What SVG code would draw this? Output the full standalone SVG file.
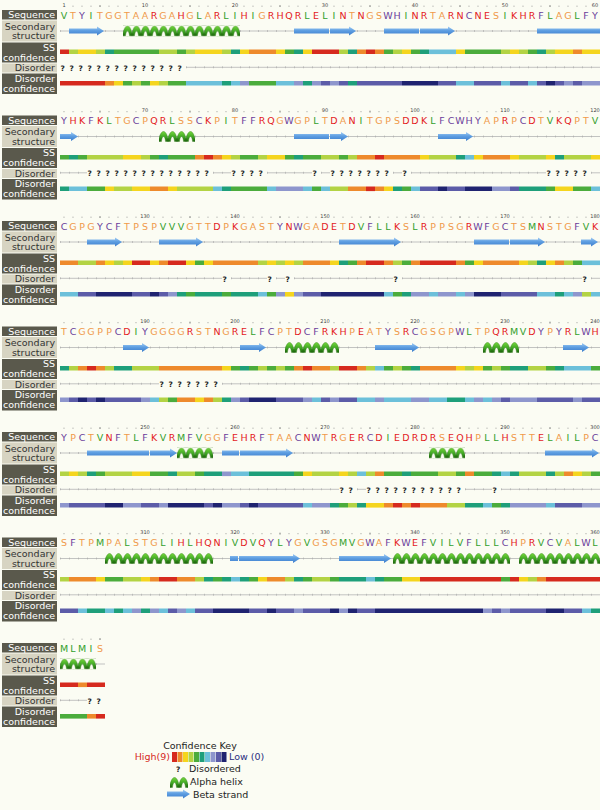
<svg xmlns="http://www.w3.org/2000/svg" width="600" height="810" viewBox="0 0 600 810">
<style>
text{font-family:"DejaVu Sans","Liberation Sans",sans-serif}
.dk{fill:#5a594c}.lt{fill:#d7d4c2}
.lw,.lb{font-size:9.5px;text-anchor:end}
.lw{fill:#fff}.lb{fill:#333}
.tn{font-size:5px;fill:#444;text-anchor:middle}
.sq{font-size:9.5px;text-anchor:middle}
.r{fill:#e31a1c}.o{fill:#f09a4a}.g{fill:#33a02c}.p{fill:#6a3d9a}
.cf path{stroke-width:4.6;fill:none}
.s9{stroke:#d62a1e}.s8{stroke:#ee8a2c}.s7{stroke:#f5d51e}.s6{stroke:#b3d344}.s5{stroke:#4bac3c}.s4{stroke:#1e9f7a}.s3{stroke:#6cc0da}.s2{stroke:#8e96cd}.s1{stroke:#5c5ca8}.s0{stroke:#1f2370}
.ln{stroke:#b4b4b4;stroke-width:0.8;fill:none}
.tk{stroke:#a8a8a8;stroke-width:2;stroke-dasharray:0.6 8.4;fill:none}
.dt{stroke:#777;stroke-width:0.9;stroke-linecap:round;fill:none}
.cm{stroke:#555;stroke-width:0.8;fill:none}
.st{fill:url(#bs)}
.hx{fill:url(#hx)}
.q{font-size:7.5px;font-weight:bold;fill:#222}
</style>
<defs>
<linearGradient id="bs" gradientUnits="userSpaceOnUse" x1="0" y1="26.5" x2="0" y2="35.5"><stop offset="0" stop-color="#a3cdf3"/><stop offset="0.45" stop-color="#5f9fe2"/><stop offset="1" stop-color="#3c7dcc"/></linearGradient>
<linearGradient id="hg" x1="0" y1="0" x2="0" y2="1"><stop offset="0" stop-color="#74d63c"/><stop offset="0.55" stop-color="#3ea622"/><stop offset="1" stop-color="#1d650d"/></linearGradient>
<pattern id="hx" patternUnits="userSpaceOnUse" x="60" y="25.5" width="9" height="11">
<path d="M-0.5 10.6C0.5 3.5 2.5 0.5 4.5 0.5S8.5 3.5 9.5 10.6H6.6C6.2 7.5 5.5 5.6 4.5 5.6S2.8 7.5 2.4 10.6Z" fill="url(#hg)" stroke="#2a7a12" stroke-width="0.4"/>
<path d="M8.5 10.6C8.9 8 9.3 6 9.6 5.5M0.5 10.6C0.1 8 -0.3 6 -0.6 5.5" fill="none" stroke="#1d650d" stroke-width="0.5"/>
</pattern>
<path id="dots" class="dt" d="M73 6.2h.01M82 6.2h.01M91 6.2h.01M109 6.2h.01M118 6.2h.01M127 6.2h.01M136 6.2h.01M154 6.2h.01M163 6.2h.01M172 6.2h.01M181 6.2h.01M199 6.2h.01M208 6.2h.01M217 6.2h.01M226 6.2h.01M244 6.2h.01M253 6.2h.01M262 6.2h.01M271 6.2h.01M289 6.2h.01M298 6.2h.01M307 6.2h.01M316 6.2h.01M334 6.2h.01M343 6.2h.01M352 6.2h.01M361 6.2h.01M379 6.2h.01M388 6.2h.01M397 6.2h.01M406 6.2h.01M424 6.2h.01M433 6.2h.01M442 6.2h.01M451 6.2h.01M469 6.2h.01M478 6.2h.01M487 6.2h.01M496 6.2h.01M514 6.2h.01M523 6.2h.01M532 6.2h.01M541 6.2h.01M559 6.2h.01M568 6.2h.01M577 6.2h.01M586 6.2h.01"/>
<path id="cms" class="cm" d="M100 5.2v1.8M190 5.2v1.8M280 5.2v1.8M370 5.2v1.8M460 5.2v1.8M550 5.2v1.8"/>
</defs>
<rect width="600" height="810" fill="#fbfcf3"/>

<!-- Block 1 -->
<g id="block1">
<rect class="dk" x="2" y="10" width="55" height="9.5"/><text class="lw" x="55" y="18">Sequence</text>
<rect class="lt" x="2" y="20.5" width="55" height="21"/><text class="lb" x="55" y="29.5">Secondary</text><text class="lb" x="55" y="39">structure</text>
<rect class="dk" x="2" y="42.5" width="55" height="20"/><text class="lw" x="55" y="50.5">SS</text><text class="lw" x="55" y="60.5">confidence</text>
<rect class="lt" x="2" y="63.5" width="55" height="9"/><text class="lb" x="55" y="71">Disorder</text>
<rect class="dk" x="2" y="73.5" width="55" height="20.5"/><text class="lw" x="55" y="81.5">Disorder</text><text class="lw" x="55" y="91.5">confidence</text>
<use href="#dots"/><use href="#cms"/>
<text class="tn" y="6.7" x="64">1</text><text class="tn" y="6.7" x="145">10</text><text class="tn" y="6.7" x="235">20</text><text class="tn" y="6.7" x="325">30</text><text class="tn" y="6.7" x="415">40</text><text class="tn" y="6.7" x="505">50</text><text class="tn" y="6.7" x="595">60</text>
<text class="sq" y="18.5" x="64 73 82 91 100 109 118 127 136 145 154 163 172 181 190 199 208 217 226 235 244 253 262 271 280 289 298 307 316 325 334 343 352 361 370 379 388 397 406 415 424 433 442 451 460 469 478 487 496 505 514 523 532 541 550 559 568 577 586 595"><tspan class="g">V</tspan><tspan class="o">T</tspan><tspan class="p">Y</tspan><tspan class="g">I</tspan><tspan class="o">TGGTAA</tspan><tspan class="r">R</tspan><tspan class="o">GA</tspan><tspan class="r">H</tspan><tspan class="o">G</tspan><tspan class="g">L</tspan><tspan class="o">A</tspan><tspan class="r">R</tspan><tspan class="g">LI</tspan><tspan class="r">H</tspan><tspan class="g">I</tspan><tspan class="o">G</tspan><tspan class="r">RHQR</tspan><tspan class="g">L</tspan><tspan class="r">E</tspan><tspan class="g">LI</tspan><tspan class="r">N</tspan><tspan class="o">T</tspan><tspan class="r">N</tspan><tspan class="o">GS</tspan><tspan class="p">WH</tspan><tspan class="g">I</tspan><tspan class="r">NR</tspan><tspan class="o">TA</tspan><tspan class="r">RN</tspan><tspan class="p">C</tspan><tspan class="r">NE</tspan><tspan class="o">S</tspan><tspan class="g">I</tspan><tspan class="r">KHR</tspan><tspan class="p">F</tspan><tspan class="g">L</tspan><tspan class="o">AG</tspan><tspan class="g">L</tspan><tspan class="p">FY</tspan></text>
<path class="ln" d="M60 31H600"/><path class="tk" d="M60 31H600"/>
<path class="st" d="M69 28.5H97V26.5L104 31L97 35.5V33.5H69Z"/>
<rect class="hx" x="123" y="25.5" width="117" height="11"/>
<rect class="st" x="294" y="28.5" width="35" height="5"/>
<path class="st" d="M330 28.5H349V26.5L356 31L349 35.5V33.5H330Z"/>
<rect class="st" x="384" y="28.5" width="35" height="5"/>
<path class="st" d="M420 28.5H448V26.5L455 31L448 35.5V33.5H420Z"/>
<rect class="st" x="537" y="28.5" width="63" height="5"/>
<g class="cf" transform="translate(0,51.8)">
<path class="s9" d="M60 0h9M312 0h27M366 0h9"/>
<path class="s8" d="M249 0h27M357 0h9M375 0h9M573 0h9"/>
<path class="s7" d="M78 0h18M195 0h27M240 0h9M276 0h9M303 0h9M402 0h9M456 0h9M510 0h9M555 0h18M582 0h18"/>
<path class="s6" d="M69 0h9M96 0h9M159 0h18M186 0h9M222 0h9M339 0h9M393 0h9M501 0h9M519 0h9M546 0h9"/>
<path class="s5" d="M114 0h45M177 0h9M285 0h9M384 0h9M411 0h9M465 0h36M528 0h9"/>
<path class="s4" d="M105 0h9M231 0h9M294 0h9M348 0h9M420 0h9M537 0h9"/>
<path class="s3" d="M429 0h27"/>
</g>
<path class="ln" d="M186 67.3H600"/><path class="tk" d="M186 67.3H600"/>
<text class="q" y="70.7" x="60.5 69.5 78.5 87.5 96.5 105.5 114.5 123.5 132.5 141.5 150.5 159.5 168.5 177.5">??????????????</text>
<g class="cf" transform="translate(0,83.3)">
<path class="s9" d="M60 0h45"/>
<path class="s8" d="M105 0h9"/>
<path class="s7" d="M114 0h9M150 0h9"/>
<path class="s6" d="M132 0h9M159 0h9"/>
<path class="s5" d="M123 0h9M141 0h9M168 0h18M249 0h27"/>
<path class="s4" d="M222 0h9M303 0h9M348 0h9"/>
<path class="s3" d="M186 0h36M231 0h9M276 0h18M456 0h18M501 0h9M528 0h9"/>
<path class="s2" d="M240 0h9M294 0h9M312 0h9M330 0h9M564 0h9M582 0h18"/>
<path class="s1" d="M321 0h9M339 0h9M357 0h45M438 0h18M474 0h27M510 0h18M537 0h9M555 0h9M573 0h9"/>
<path class="s0" d="M402 0h36M546 0h9"/>
</g>
</g>

<!-- Block 2 -->
<g id="block2" transform="translate(0,105.5)">
<rect class="dk" x="2" y="10" width="55" height="9.5"/><text class="lw" x="55" y="18">Sequence</text>
<rect class="lt" x="2" y="20.5" width="55" height="21"/><text class="lb" x="55" y="29.5">Secondary</text><text class="lb" x="55" y="39">structure</text>
<rect class="dk" x="2" y="42.5" width="55" height="20"/><text class="lw" x="55" y="50.5">SS</text><text class="lw" x="55" y="60.5">confidence</text>
<rect class="lt" x="2" y="63.5" width="55" height="9"/><text class="lb" x="55" y="71">Disorder</text>
<rect class="dk" x="2" y="73.5" width="55" height="20.5"/><text class="lw" x="55" y="81.5">Disorder</text><text class="lw" x="55" y="91.5">confidence</text>
<use href="#dots"/><use href="#cms"/><path class="dt" d="M64 6.2h.01"/>
<text class="tn" y="6.7" x="145">70</text><text class="tn" y="6.7" x="235">80</text><text class="tn" y="6.7" x="325">90</text><text class="tn" y="6.7" x="415">100</text><text class="tn" y="6.7" x="505">110</text><text class="tn" y="6.7" x="595">120</text>
<text class="sq" y="18.5" x="64 73 82 91 100 109 118 127 136 145 154 163 172 181 190 199 208 217 226 235 244 253 262 271 280 289 298 307 316 325 334 343 352 361 370 379 388 397 406 415 424 433 442 451 460 469 478 487 496 505 514 523 532 541 550 559 568 577 586 595"><tspan class="p">Y</tspan><tspan class="r">HK</tspan><tspan class="p">F</tspan><tspan class="r">K</tspan><tspan class="g">L</tspan><tspan class="o">TG</tspan><tspan class="p">C</tspan><tspan class="o">P</tspan><tspan class="r">QR</tspan><tspan class="g">L</tspan><tspan class="o">SS</tspan><tspan class="p">C</tspan><tspan class="r">K</tspan><tspan class="o">P</tspan><tspan class="g">I</tspan><tspan class="o">T</tspan><tspan class="p">FF</tspan><tspan class="r">RQ</tspan><tspan class="o">G</tspan><tspan class="p">W</tspan><tspan class="o">GP</tspan><tspan class="g">L</tspan><tspan class="o">T</tspan><tspan class="r">D</tspan><tspan class="o">A</tspan><tspan class="r">N</tspan><tspan class="g">I</tspan><tspan class="o">TGPS</tspan><tspan class="r">DDK</tspan><tspan class="g">L</tspan><tspan class="p">FCWHY</tspan><tspan class="o">AP</tspan><tspan class="r">R</tspan><tspan class="o">P</tspan><tspan class="p">C</tspan><tspan class="r">D</tspan><tspan class="o">T</tspan><tspan class="g">V</tspan><tspan class="r">KQ</tspan><tspan class="o">PT</tspan><tspan class="g">V</tspan></text>
<path class="ln" d="M60 31H600"/><path class="tk" d="M60 31H600"/>
<path class="st" d="M60 28.5H71V26.5L78 31L71 35.5V33.5H60Z"/>
<rect class="hx" x="159" y="25.5" width="36" height="11"/>
<rect class="st" x="294" y="28.5" width="35" height="5"/>
<path class="st" d="M330 28.5H341V26.5L348 31L341 35.5V33.5H330Z"/>
<path class="st" d="M438 28.5H466V26.5L473 31L466 35.5V33.5H438Z"/>
<g class="cf" transform="translate(0,51.8)">
<path class="s9" d="M204 0h9M375 0h9"/>
<path class="s8" d="M195 0h9M213 0h9M357 0h18M384 0h36M483 0h27"/>
<path class="s7" d="M123 0h18M222 0h9M267 0h18M420 0h9M474 0h9M510 0h9M546 0h9M591 0h9"/>
<path class="s6" d="M87 0h36M141 0h9M231 0h9M258 0h9M321 0h18M348 0h9M429 0h27M519 0h27M564 0h27"/>
<path class="s5" d="M60 0h9M78 0h9M150 0h9M168 0h27M240 0h18M285 0h9M303 0h18M339 0h9"/>
<path class="s4" d="M69 0h9M159 0h9M294 0h9M456 0h9M555 0h9"/>
<path class="s3" d="M465 0h9"/>
</g>
<path class="ln" d="M60 67.3H87M213 67.3H231M267 67.3H312M321 67.3H330M393 67.3H402M411 67.3H546M591 67.3H600"/>
<path class="tk" d="M60 67.3H87M213 67.3H231M267 67.3H312M321 67.3H330M393 67.3H402M411 67.3H546M591 67.3H600"/>
<text class="q" y="70.7" x="87.5 96.5 105.5 114.5 123.5 132.5 141.5 150.5 159.5 168.5 177.5 186.5 195.5 204.5 231.5 240.5 249.5 258.5 312.5 330.5 339.5 348.5 357.5 366.5 375.5 384.5 402.5 546.5 555.5 564.5 573.5 582.5">????????????????????????????????</text>
<g class="cf" transform="translate(0,83.3)">
<path class="s9" d="M366 0h9"/>
<path class="s8" d="M150 0h18M348 0h18M375 0h9"/>
<path class="s7" d="M105 0h9M132 0h18M168 0h9M384 0h9M555 0h18"/>
<path class="s6" d="M114 0h18M177 0h36M330 0h18"/>
<path class="s5" d="M87 0h18M231 0h36M312 0h9M402 0h9M546 0h9M573 0h18"/>
<path class="s4" d="M60 0h9M222 0h9M393 0h9M519 0h27"/>
<path class="s3" d="M69 0h18M213 0h9M267 0h9M303 0h9M321 0h9M411 0h9M591 0h9"/>
<path class="s2" d="M276 0h27M492 0h18"/>
<path class="s1" d="M420 0h18M447 0h18M510 0h9"/>
<path class="s0" d="M438 0h9M465 0h27"/>
</g>
</g>

<!-- Block 3 -->
<g id="block3" transform="translate(0,211)">
<rect class="dk" x="2" y="10" width="55" height="9.5"/><text class="lw" x="55" y="18">Sequence</text>
<rect class="lt" x="2" y="20.5" width="55" height="21"/><text class="lb" x="55" y="29.5">Secondary</text><text class="lb" x="55" y="39">structure</text>
<rect class="dk" x="2" y="42.5" width="55" height="20"/><text class="lw" x="55" y="50.5">SS</text><text class="lw" x="55" y="60.5">confidence</text>
<rect class="lt" x="2" y="63.5" width="55" height="9"/><text class="lb" x="55" y="71">Disorder</text>
<rect class="dk" x="2" y="73.5" width="55" height="20.5"/><text class="lw" x="55" y="81.5">Disorder</text><text class="lw" x="55" y="91.5">confidence</text>
<use href="#dots"/><use href="#cms"/><path class="dt" d="M64 6.2h.01"/>
<text class="tn" y="6.7" x="145">130</text><text class="tn" y="6.7" x="235">140</text><text class="tn" y="6.7" x="325">150</text><text class="tn" y="6.7" x="415">160</text><text class="tn" y="6.7" x="505">170</text><text class="tn" y="6.7" x="595">180</text>
<text class="sq" y="18.5" x="64 73 82 91 100 109 118 127 136 145 154 163 172 181 190 199 208 217 226 235 244 253 262 271 280 289 298 307 316 325 334 343 352 361 370 379 388 397 406 415 424 433 442 451 460 469 478 487 496 505 514 523 532 541 550 559 568 577 586 595"><tspan class="p">C</tspan><tspan class="o">GPG</tspan><tspan class="p">YCF</tspan><tspan class="o">TPSP</tspan><tspan class="g">VVV</tspan><tspan class="o">GTT</tspan><tspan class="r">D</tspan><tspan class="o">P</tspan><tspan class="r">K</tspan><tspan class="o">GAST</tspan><tspan class="p">Y</tspan><tspan class="r">N</tspan><tspan class="p">W</tspan><tspan class="o">GA</tspan><tspan class="r">DE</tspan><tspan class="o">T</tspan><tspan class="r">D</tspan><tspan class="g">V</tspan><tspan class="p">F</tspan><tspan class="g">LL</tspan><tspan class="r">K</tspan><tspan class="o">S</tspan><tspan class="g">L</tspan><tspan class="r">R</tspan><tspan class="o">PPSG</tspan><tspan class="r">R</tspan><tspan class="p">WF</tspan><tspan class="o">G</tspan><tspan class="p">C</tspan><tspan class="o">TS</tspan><tspan class="g">M</tspan><tspan class="r">N</tspan><tspan class="o">STG</tspan><tspan class="p">F</tspan><tspan class="g">V</tspan><tspan class="r">K</tspan></text>
<path class="ln" d="M60 31H600"/><path class="tk" d="M60 31H600"/>
<path class="st" d="M87 28.5H115V26.5L122 31L115 35.5V33.5H87Z"/>
<path class="st" d="M159 28.5H196V26.5L203 31L196 35.5V33.5H159Z"/>
<path class="st" d="M339 28.5H394V26.5L401 31L394 35.5V33.5H339Z"/>
<rect class="st" x="474" y="28.5" width="35" height="5"/>
<path class="st" d="M510 28.5H538V26.5L545 31L538 35.5V33.5H510Z"/>
<path class="st" d="M581 28.5H591V26.5L598 31L591 35.5V33.5H581Z"/>
<g class="cf" transform="translate(0,51.8)">
<path class="s9" d="M132 0h18M168 0h18M366 0h18M420 0h36"/>
<path class="s8" d="M60 0h18M96 0h9M159 0h9M213 0h45M303 0h27M357 0h9M384 0h9M411 0h9M456 0h9M483 0h36M555 0h9"/>
<path class="s7" d="M105 0h9M123 0h9M150 0h9M186 0h9M204 0h9M267 0h9M285 0h9M330 0h9M474 0h9M519 0h9M546 0h9"/>
<path class="s6" d="M78 0h18M114 0h9M258 0h9M276 0h9M294 0h9M393 0h9M528 0h9M564 0h9"/>
<path class="s5" d="M195 0h9M348 0h9M402 0h9M465 0h9M573 0h9"/>
<path class="s4" d="M339 0h9M537 0h9"/>
<path class="s3" d="M582 0h18"/>
</g>
<path class="ln" d="M60 67.3H222M231 67.3H267M276 67.3H285M294 67.3H393M402 67.3H582M591 67.3H600"/>
<path class="tk" d="M60 67.3H222M231 67.3H267M276 67.3H285M294 67.3H393M402 67.3H582M591 67.3H600"/>
<text class="q" y="70.7" x="222.5 267.5 285.5 393.5 582.5">?????</text>
<g class="cf" transform="translate(0,83.3)">
<path class="s7" d="M285 0h9"/>
<path class="s6" d="M582 0h9"/>
<path class="s5" d="M186 0h9M222 0h9M267 0h9M393 0h9"/>
<path class="s4" d="M177 0h9M195 0h27M231 0h27M402 0h9M555 0h9"/>
<path class="s3" d="M60 0h18M258 0h9M384 0h9M429 0h9M456 0h9M537 0h18M564 0h9M591 0h9"/>
<path class="s2" d="M168 0h9M276 0h9M294 0h9M411 0h18M438 0h18M465 0h9M573 0h9"/>
<path class="s1" d="M78 0h18M132 0h18M159 0h9M303 0h18M501 0h36"/>
<path class="s0" d="M96 0h36M150 0h9M321 0h63M474 0h27"/>
</g>
</g>

<!-- Block 4 -->
<g id="block4" transform="translate(0,316.5)">
<rect class="dk" x="2" y="10" width="55" height="9.5"/><text class="lw" x="55" y="18">Sequence</text>
<rect class="lt" x="2" y="20.5" width="55" height="21"/><text class="lb" x="55" y="29.5">Secondary</text><text class="lb" x="55" y="39">structure</text>
<rect class="dk" x="2" y="42.5" width="55" height="20"/><text class="lw" x="55" y="50.5">SS</text><text class="lw" x="55" y="60.5">confidence</text>
<rect class="lt" x="2" y="63.5" width="55" height="9"/><text class="lb" x="55" y="71">Disorder</text>
<rect class="dk" x="2" y="73.5" width="55" height="20.5"/><text class="lw" x="55" y="81.5">Disorder</text><text class="lw" x="55" y="91.5">confidence</text>
<use href="#dots"/><use href="#cms"/><path class="dt" d="M64 6.2h.01"/>
<text class="tn" y="6.7" x="145">190</text><text class="tn" y="6.7" x="235">200</text><text class="tn" y="6.7" x="325">210</text><text class="tn" y="6.7" x="415">220</text><text class="tn" y="6.7" x="505">230</text><text class="tn" y="6.7" x="595">240</text>
<text class="sq" y="18.5" x="64 73 82 91 100 109 118 127 136 145 154 163 172 181 190 199 208 217 226 235 244 253 262 271 280 289 298 307 316 325 334 343 352 361 370 379 388 397 406 415 424 433 442 451 460 469 478 487 496 505 514 523 532 541 550 559 568 577 586 595"><tspan class="o">T</tspan><tspan class="p">C</tspan><tspan class="o">GGPP</tspan><tspan class="p">C</tspan><tspan class="r">D</tspan><tspan class="g">I</tspan><tspan class="p">Y</tspan><tspan class="o">GGGG</tspan><tspan class="r">R</tspan><tspan class="o">ST</tspan><tspan class="r">N</tspan><tspan class="o">G</tspan><tspan class="r">RE</tspan><tspan class="g">L</tspan><tspan class="p">FC</tspan><tspan class="o">PT</tspan><tspan class="r">D</tspan><tspan class="p">CF</tspan><tspan class="r">RKH</tspan><tspan class="o">P</tspan><tspan class="r">E</tspan><tspan class="o">AT</tspan><tspan class="p">Y</tspan><tspan class="o">S</tspan><tspan class="r">R</tspan><tspan class="p">C</tspan><tspan class="o">GSGP</tspan><tspan class="p">W</tspan><tspan class="g">L</tspan><tspan class="o">TP</tspan><tspan class="r">QR</tspan><tspan class="g">MV</tspan><tspan class="r">D</tspan><tspan class="p">Y</tspan><tspan class="o">P</tspan><tspan class="p">Y</tspan><tspan class="r">R</tspan><tspan class="g">L</tspan><tspan class="p">W</tspan><tspan class="r">H</tspan></text>
<path class="ln" d="M60 31H600"/><path class="tk" d="M60 31H600"/>
<path class="st" d="M123 28.5H142V26.5L149 31L142 35.5V33.5H123Z"/>
<path class="st" d="M240 28.5H259V26.5L266 31L259 35.5V33.5H240Z"/>
<rect class="hx" x="285" y="25.5" width="54" height="11"/>
<path class="st" d="M375 28.5H412V26.5L419 31L412 35.5V33.5H375Z"/>
<rect class="hx" x="483" y="25.5" width="36" height="11"/>
<path class="st" d="M563 28.5H582V26.5L589 31L582 35.5V33.5H563Z"/>
<g class="cf" transform="translate(0,51.8)">
<path class="s9" d="M87 0h9M303 0h9M339 0h18"/>
<path class="s8" d="M78 0h9M96 0h9M159 0h63M294 0h9M312 0h18M357 0h9M420 0h36"/>
<path class="s7" d="M222 0h9M456 0h9M474 0h9"/>
<path class="s6" d="M69 0h9M105 0h9M132 0h27M258 0h9M276 0h9M330 0h9M366 0h9M393 0h9M465 0h9M492 0h9M528 0h18"/>
<path class="s5" d="M231 0h9M249 0h9M267 0h9M285 0h9M384 0h9M402 0h9M483 0h9M501 0h9M546 0h9M591 0h9"/>
<path class="s4" d="M60 0h9M114 0h18M240 0h9M411 0h9M510 0h18M555 0h9"/>
<path class="s3" d="M375 0h9M564 0h27"/>
</g>
<path class="ln" d="M60 67.3H159M222 67.3H600"/><path class="tk" d="M60 67.3H159M222 67.3H600"/>
<text class="q" y="70.7" x="159.5 168.5 177.5 186.5 195.5 204.5 213.5">???????</text>
<g class="cf" transform="translate(0,83.3)">
<path class="s8" d="M177 0h18M204 0h9"/>
<path class="s7" d="M195 0h9"/>
<path class="s6" d="M159 0h9M213 0h9"/>
<path class="s5" d="M168 0h9"/>
<path class="s4" d="M222 0h9M447 0h18"/>
<path class="s3" d="M150 0h9M312 0h9M357 0h18M384 0h27M429 0h18M465 0h9M483 0h9"/>
<path class="s2" d="M60 0h9M141 0h9M231 0h9M303 0h9M330 0h9M375 0h9M411 0h18M474 0h9M492 0h9M510 0h27M573 0h9"/>
<path class="s1" d="M69 0h9M87 0h9M105 0h36M240 0h9M276 0h27M321 0h9M339 0h18M501 0h9M537 0h36M582 0h18"/>
<path class="s0" d="M78 0h9M96 0h9M249 0h27"/>
</g>
</g>

<!-- Block 5 -->
<g id="block5" transform="translate(0,422)">
<rect class="dk" x="2" y="10" width="55" height="9.5"/><text class="lw" x="55" y="18">Sequence</text>
<rect class="lt" x="2" y="20.5" width="55" height="21"/><text class="lb" x="55" y="29.5">Secondary</text><text class="lb" x="55" y="39">structure</text>
<rect class="dk" x="2" y="42.5" width="55" height="20"/><text class="lw" x="55" y="50.5">SS</text><text class="lw" x="55" y="60.5">confidence</text>
<rect class="lt" x="2" y="63.5" width="55" height="9"/><text class="lb" x="55" y="71">Disorder</text>
<rect class="dk" x="2" y="73.5" width="55" height="20.5"/><text class="lw" x="55" y="81.5">Disorder</text><text class="lw" x="55" y="91.5">confidence</text>
<use href="#dots"/><use href="#cms"/><path class="dt" d="M64 6.2h.01"/>
<text class="tn" y="6.7" x="145">250</text><text class="tn" y="6.7" x="235">260</text><text class="tn" y="6.7" x="325">270</text><text class="tn" y="6.7" x="415">280</text><text class="tn" y="6.7" x="505">290</text><text class="tn" y="6.7" x="595">300</text>
<text class="sq" y="18.5" x="64 73 82 91 100 109 118 127 136 145 154 163 172 181 190 199 208 217 226 235 244 253 262 271 280 289 298 307 316 325 334 343 352 361 370 379 388 397 406 415 424 433 442 451 460 469 478 487 496 505 514 523 532 541 550 559 568 577 586 595"><tspan class="p">Y</tspan><tspan class="o">P</tspan><tspan class="p">C</tspan><tspan class="o">T</tspan><tspan class="g">V</tspan><tspan class="r">N</tspan><tspan class="p">F</tspan><tspan class="o">T</tspan><tspan class="g">L</tspan><tspan class="p">F</tspan><tspan class="r">K</tspan><tspan class="g">V</tspan><tspan class="r">R</tspan><tspan class="g">M</tspan><tspan class="p">F</tspan><tspan class="g">V</tspan><tspan class="o">GG</tspan><tspan class="p">F</tspan><tspan class="r">EHR</tspan><tspan class="p">F</tspan><tspan class="o">TAA</tspan><tspan class="p">C</tspan><tspan class="r">N</tspan><tspan class="p">W</tspan><tspan class="o">T</tspan><tspan class="r">R</tspan><tspan class="o">G</tspan><tspan class="r">ER</tspan><tspan class="p">C</tspan><tspan class="r">D</tspan><tspan class="g">I</tspan><tspan class="r">EDRDR</tspan><tspan class="o">S</tspan><tspan class="r">EQH</tspan><tspan class="o">P</tspan><tspan class="g">LL</tspan><tspan class="r">H</tspan><tspan class="o">STT</tspan><tspan class="r">E</tspan><tspan class="g">L</tspan><tspan class="o">A</tspan><tspan class="g">IL</tspan><tspan class="o">P</tspan><tspan class="p">C</tspan></text>
<path class="ln" d="M60 31H600"/><path class="tk" d="M60 31H600"/>
<rect class="st" x="87" y="28.5" width="62" height="5"/>
<path class="st" d="M150 28.5H170V26.5L177 31L170 35.5V33.5H150Z"/>
<rect class="hx" x="177" y="25.5" width="36" height="11"/>
<rect class="st" x="222" y="28.5" width="17" height="5"/>
<path class="st" d="M240 28.5H286V26.5L293 31L286 35.5V33.5H240Z"/>
<rect class="hx" x="429" y="25.5" width="36" height="11"/>
<path class="st" d="M545 28.5H592V26.5L599 31L592 35.5V33.5H545Z"/>
<g class="cf" transform="translate(0,51.8)">
<path class="s8" d="M375 0h9M465 0h9M564 0h9"/>
<path class="s7" d="M69 0h9M132 0h18M303 0h9M339 0h9M573 0h9"/>
<path class="s6" d="M60 0h9M78 0h9M105 0h27M177 0h18M312 0h27M348 0h9M366 0h9M438 0h18M519 0h27M555 0h9M582 0h9"/>
<path class="s5" d="M96 0h9M150 0h18M195 0h9M294 0h9M384 0h18M411 0h27M456 0h9M474 0h18M591 0h9"/>
<path class="s4" d="M87 0h9M168 0h9M204 0h18M249 0h45M402 0h9M492 0h9M510 0h9M546 0h9"/>
<path class="s3" d="M231 0h18M357 0h9M501 0h9"/>
<path class="s2" d="M222 0h9"/>
</g>
<path class="ln" d="M60 67.3H339M357 67.3H366M465 67.3H492M501 67.3H600"/>
<path class="tk" d="M60 67.3H339M357 67.3H366M465 67.3H492M501 67.3H600"/>
<text class="q" y="70.7" x="339.5 348.5 366.5 375.5 384.5 393.5 402.5 411.5 420.5 429.5 438.5 447.5 456.5 492.5">??????????????</text>
<g class="cf" transform="translate(0,83.3)">
<path class="s9" d="M393 0h9M411 0h9"/>
<path class="s8" d="M384 0h9M402 0h9M420 0h27"/>
<path class="s7" d="M366 0h18"/>
<path class="s6" d="M348 0h9M447 0h18"/>
<path class="s5" d="M339 0h9M492 0h9"/>
<path class="s4" d="M330 0h9M357 0h9M465 0h18M501 0h9"/>
<path class="s3" d="M303 0h9M483 0h9M546 0h9"/>
<path class="s2" d="M60 0h9M123 0h18M159 0h9M222 0h18M312 0h18M510 0h36M582 0h18"/>
<path class="s1" d="M69 0h36M141 0h18M204 0h9M240 0h9M258 0h45M555 0h27"/>
<path class="s0" d="M105 0h18M168 0h36M213 0h9M249 0h9"/>
</g>
</g>

<!-- Block 6 -->
<g id="block6" transform="translate(0,527.5)">
<rect class="dk" x="2" y="10" width="55" height="9.5"/><text class="lw" x="55" y="18">Sequence</text>
<rect class="lt" x="2" y="20.5" width="55" height="21"/><text class="lb" x="55" y="29.5">Secondary</text><text class="lb" x="55" y="39">structure</text>
<rect class="dk" x="2" y="42.5" width="55" height="20"/><text class="lw" x="55" y="50.5">SS</text><text class="lw" x="55" y="60.5">confidence</text>
<rect class="lt" x="2" y="63.5" width="55" height="9"/><text class="lb" x="55" y="71">Disorder</text>
<rect class="dk" x="2" y="73.5" width="55" height="20.5"/><text class="lw" x="55" y="81.5">Disorder</text><text class="lw" x="55" y="91.5">confidence</text>
<use href="#dots"/><use href="#cms"/><path class="dt" d="M64 6.2h.01"/>
<text class="tn" y="6.7" x="145">310</text><text class="tn" y="6.7" x="235">320</text><text class="tn" y="6.7" x="325">330</text><text class="tn" y="6.7" x="415">340</text><text class="tn" y="6.7" x="505">350</text><text class="tn" y="6.7" x="595">360</text>
<text class="sq" y="18.5" x="64 73 82 91 100 109 118 127 136 145 154 163 172 181 190 199 208 217 226 235 244 253 262 271 280 289 298 307 316 325 334 343 352 361 370 379 388 397 406 415 424 433 442 451 460 469 478 487 496 505 514 523 532 541 550 559 568 577 586 595"><tspan class="o">S</tspan><tspan class="p">F</tspan><tspan class="o">TP</tspan><tspan class="g">M</tspan><tspan class="o">PA</tspan><tspan class="g">L</tspan><tspan class="o">STG</tspan><tspan class="g">LI</tspan><tspan class="r">H</tspan><tspan class="g">L</tspan><tspan class="r">HQN</tspan><tspan class="g">IV</tspan><tspan class="r">D</tspan><tspan class="g">V</tspan><tspan class="r">Q</tspan><tspan class="p">Y</tspan><tspan class="g">L</tspan><tspan class="p">Y</tspan><tspan class="o">G</tspan><tspan class="g">V</tspan><tspan class="o">GSG</tspan><tspan class="g">MV</tspan><tspan class="o">G</tspan><tspan class="p">W</tspan><tspan class="o">A</tspan><tspan class="p">F</tspan><tspan class="r">K</tspan><tspan class="p">W</tspan><tspan class="r">E</tspan><tspan class="p">F</tspan><tspan class="g">VILV</tspan><tspan class="p">F</tspan><tspan class="g">LLL</tspan><tspan class="p">C</tspan><tspan class="r">H</tspan><tspan class="o">P</tspan><tspan class="r">R</tspan><tspan class="g">V</tspan><tspan class="p">C</tspan><tspan class="g">V</tspan><tspan class="o">A</tspan><tspan class="g">L</tspan><tspan class="p">W</tspan><tspan class="g">L</tspan></text>
<path class="ln" d="M60 31H600"/><path class="tk" d="M60 31H600"/>
<rect class="hx" x="105" y="25.5" width="108" height="11"/>
<rect class="st" x="230" y="28.5" width="8" height="5"/>
<path class="st" d="M239 28.5H293V26.5L300 31L293 35.5V33.5H239Z"/>
<path class="st" d="M339 28.5H384V26.5L391 31L384 35.5V33.5H339Z"/>
<rect class="hx" x="393" y="25.5" width="117" height="11"/>
<rect class="hx" x="519" y="25.5" width="81" height="11"/>
<g class="cf" transform="translate(0,51.8)">
<path class="s9" d="M159 0h18M420 0h81M510 0h9M546 0h54"/>
<path class="s8" d="M69 0h27M150 0h9M177 0h18M267 0h18M537 0h9"/>
<path class="s7" d="M96 0h9M141 0h9M258 0h9M402 0h18M519 0h9"/>
<path class="s6" d="M60 0h9M123 0h18M195 0h9M285 0h9M312 0h18M528 0h9"/>
<path class="s5" d="M105 0h18M213 0h9M249 0h9M303 0h9M330 0h9M384 0h18M501 0h9"/>
<path class="s4" d="M204 0h9M222 0h9M240 0h9M294 0h9M339 0h27M375 0h9"/>
<path class="s3" d="M231 0h9M366 0h9"/>
</g>
<path class="ln" d="M60 67.3H600"/><path class="tk" d="M60 67.3H600"/>
<g class="cf" transform="translate(0,83.3)">
<path class="s4" d="M87 0h18M114 0h9M141 0h9M591 0h9"/>
<path class="s3" d="M78 0h9M105 0h9M123 0h9M159 0h9M186 0h9M582 0h9"/>
<path class="s2" d="M132 0h9M150 0h9M177 0h9M294 0h9M339 0h9M483 0h9M501 0h9"/>
<path class="s1" d="M60 0h18M168 0h9M195 0h18M249 0h18M276 0h18M303 0h27M357 0h18M492 0h9M510 0h36M564 0h18"/>
<path class="s0" d="M213 0h36M267 0h9M330 0h9M348 0h9M375 0h108M546 0h18"/>
</g>
</g>

<!-- Block 7 -->
<g id="block7" transform="translate(0,633)">
<rect class="dk" x="2" y="10" width="55" height="9.5"/><text class="lw" x="55" y="18">Sequence</text>
<rect class="lt" x="2" y="20.5" width="55" height="21"/><text class="lb" x="55" y="29.5">Secondary</text><text class="lb" x="55" y="39">structure</text>
<rect class="dk" x="2" y="42.5" width="55" height="20"/><text class="lw" x="55" y="50.5">SS</text><text class="lw" x="55" y="60.5">confidence</text>
<rect class="lt" x="2" y="63.5" width="55" height="9"/><text class="lb" x="55" y="71">Disorder</text>
<rect class="dk" x="2" y="73.5" width="55" height="20.5"/><text class="lw" x="55" y="81.5">Disorder</text><text class="lw" x="55" y="91.5">confidence</text>
<path class="dt" d="M64 6.2h.01M73 6.2h.01M82 6.2h.01M91 6.2h.01"/><path class="cm" d="M100 5.2v1.8"/>
<text class="sq" y="18.5" x="64 73 82 91 100"><tspan class="g">MLMI</tspan><tspan class="o">S</tspan></text>
<path class="ln" d="M60 31H105"/><path class="tk" d="M60 31H105"/>
<rect class="hx" x="60" y="25.5" width="36" height="11"/>
<g class="cf" transform="translate(0,51.8)">
<path class="s9" d="M60 0h18M87 0h18"/>
<path class="s8" d="M78 0h9"/>
</g>
<path class="ln" d="M60 67.3H87"/><path class="tk" d="M60 67.3H87"/>
<text class="q" y="70.7" x="87.5 96.5">??</text>
<g class="cf" transform="translate(0,83.3)">
<path class="s5" d="M60 0h27"/>
<path class="s8" d="M87 0h9"/>
<path class="s9" d="M96 0h9"/>
</g>
</g>

<!-- Key -->
<g id="key">
<text x="200" y="749" font-size="9.5" fill="#222" text-anchor="middle">Confidence Key</text>
<text x="170" y="760" font-size="9.5" fill="#d62a1e" text-anchor="end">High(9)</text>
<rect x="172" y="752" width="5" height="10" fill="#d62a1e"/>
<rect x="177.5" y="752" width="5" height="10" fill="#ee8a2c"/>
<rect x="183" y="752" width="5" height="10" fill="#f5d51e"/>
<rect x="188.5" y="752" width="5" height="10" fill="#b3d344"/>
<rect x="194" y="752" width="5" height="10" fill="#4bac3c"/>
<rect x="199.5" y="752" width="5" height="10" fill="#1e9f7a"/>
<rect x="205" y="752" width="5" height="10" fill="#6cc0da"/>
<rect x="210.5" y="752" width="5" height="10" fill="#8e96cd"/>
<rect x="216" y="752" width="5" height="10" fill="#5c5ca8"/>
<rect x="221.5" y="752" width="5" height="10" fill="#1f2370"/>
<text x="229" y="760" font-size="9.5" fill="#2a2e80">Low (0)</text>
<text class="q" x="176" y="772">?</text>
<text x="189" y="772" font-size="9.5" fill="#222">Disordered</text>
<g transform="translate(110,751.5)"><rect class="hx" x="60" y="25.5" width="18" height="11"/></g>
<text x="190" y="785" font-size="9.5" fill="#222">Alpha helix</text>
<g transform="translate(0,763)"><path class="st" d="M167 28.5H183V26.5L190 31L183 35.5V33.5H167Z"/></g>
<text x="193" y="798" font-size="9.5" fill="#222">Beta strand</text>
</g>
</svg>
